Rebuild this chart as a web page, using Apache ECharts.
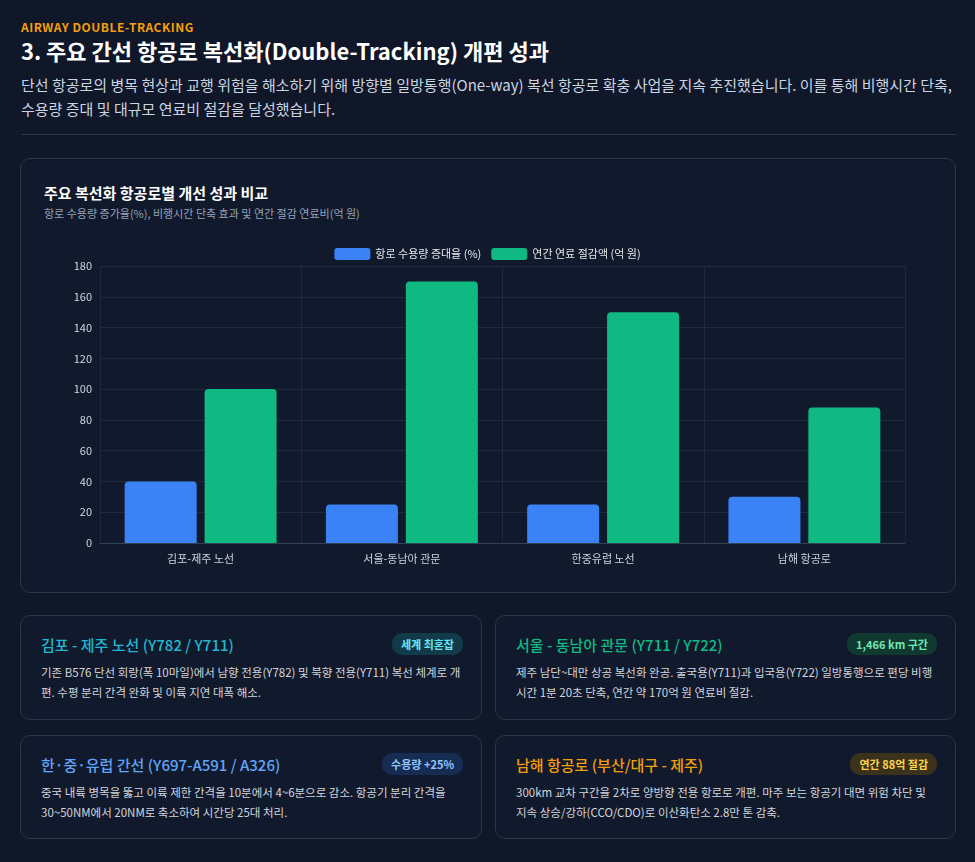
<!DOCTYPE html>
<html><head><meta charset="utf-8">
<script src="https://cdn.jsdelivr.net/npm/echarts@6/dist/echarts.min.js"></script>
<style>
body{margin:0;background:#0f1729;font-family:"Noto Sans CJK KR","Noto Sans",sans-serif;color:#e5e7eb;width:975px;height:862px;position:relative;overflow:hidden}
.abs{position:absolute}
.tag{left:21px;top:18px;font-size:12px;font-weight:700;color:#f59e0b;letter-spacing:.5px}
h1{position:absolute;left:21px;top:34px;margin:0;font-size:22px;color:#fff;font-weight:700}
.desc{left:21px;top:73px;width:935px;font-size:15px;line-height:24px;color:#cbd5e1}
.hr{left:21px;top:134px;width:935px;height:1px;background:#2b3548}
.card{border:1px solid #2b3548;border-radius:10px;background:#111a2d;box-sizing:border-box}
.ct{left:44px;top:182px;font-size:15px;font-weight:700;color:#fff}
.cs{left:44px;top:205px;font-size:11px;color:#94a3b8}
.info h3{position:absolute;left:20px;top:18px;margin:0;font-size:15px;font-weight:500}
.info .b{position:absolute;right:18px;top:17px;font-size:11px;font-weight:700;padding:3px 9px;border-radius:10px}
.info p{position:absolute;left:20px;top:46px;right:18px;margin:0;font-size:11.5px;line-height:20px;color:#d1d5db}
</style></head><body>
<div class="abs tag">AIRWAY DOUBLE-TRACKING</div>
<h1>3. 주요 간선 항공로 복선화(Double-Tracking) 개편 성과</h1>
<div class="abs desc">단선 항공로의 병목 현상과 교행 위험을 해소하기 위해 방향별 일방통행(One-way) 복선 항공로 확충 사업을 지속 추진했습니다. 이를 통해 비행시간 단축, 수용량 증대 및 대규모 연료비 절감을 달성했습니다.</div>
<div class="abs hr"></div>
<div class="abs card" style="left:20px;top:158px;width:936px;height:435px"></div>
<div class="abs ct">주요 복선화 항공로별 개선 성과 비교</div>
<div class="abs cs">항로 수용량 증가율(%), 비행시간 단축 효과 및 연간 절감 연료비(억 원)</div>
<div id="chart" class="abs" style="left:21px;top:235px;width:933px;height:345px"></div>

<div class="abs card info" style="left:20px;top:615px;width:462px;height:105px">
<h3 style="color:#22b8cf">김포 - 제주 노선 (Y782 / Y711)</h3><span class="b" style="background:#123b4a;color:#67e8f9">세계 최혼잡</span>
<p>기존 B576 단선 회랑(폭 10마일)에서 남향 전용(Y782) 및 북향 전용(Y711) 복선 체계로 개편. 수평 분리 간격 완화 및 이륙 지연 대폭 해소.</p></div>
<div class="abs card info" style="left:495px;top:615px;width:461px;height:105px">
<h3 style="color:#10b981">서울 - 동남아 관문 (Y711 / Y722)</h3><span class="b" style="background:#10392f;color:#6ee7b7">1,466 km 구간</span>
<p>제주 남단~대만 상공 복선화 완공. 출국용(Y711)과 입국용(Y722) 일방통행으로 편당 비행시간 1분 20초 단축, 연간 약 170억 원 연료비 절감.</p></div>
<div class="abs card info" style="left:20px;top:735px;width:462px;height:104px">
<h3 style="color:#60a5fa">한·중·유럽 간선 (Y697-A591 / A326)</h3><span class="b" style="background:#172c52;color:#93c5fd">수용량 +25%</span>
<p>중국 내륙 병목을 뚫고 이륙 제한 간격을 10분에서 4~6분으로 감소. 항공기 분리 간격을 30~50NM에서 20NM로 축소하여 시간당 25대 처리.</p></div>
<div class="abs card info" style="left:495px;top:735px;width:461px;height:104px">
<h3 style="color:#f59e0b">남해 항공로 (부산/대구 - 제주)</h3><span class="b" style="background:#3b321c;color:#fcd34d">연간 88억 절감</span>
<p>300km 교차 구간을 2차로 양방향 전용 항로로 개편. 마주 보는 항공기 대면 위험 차단 및 지속 상승/강하(CCO/CDO)로 이산화탄소 2.8만 톤 감축.</p></div>

<script>
var routes = ['김포-제주 노선', '서울-동남아 관문', '한중유럽 노선', '남해 항공로'];
var capacity = [40, 25, 25, 30];
var fuelSaving = [100, 170, 150, 88];

var chart = echarts.init(document.getElementById('chart'));
chart.setOption({
	textStyle: {fontFamily: 'Noto Sans CJK KR'},
	legend: {
		top: 8,
		itemWidth: 36, itemHeight: 12, itemGap: 10,
		textStyle: {color: '#e5e7eb', fontSize: 11},
		data: ['항로 수용량 증대율 (%)', '연간 연료 절감액 (억 원)']
	},
	grid: {left: 79, right: 49, top: 31, bottom: 37},
	xAxis: {
		type: 'category',
		data: routes,
		axisLine: {lineStyle: {color: '#334155'}},
		axisTick: {show: false},
		axisLabel: {color: '#cbd5e1', fontSize: 11, margin: 10},
		splitLine: {show: true, lineStyle: {color: '#1e293b'}}
	},
	yAxis: {
		type: 'value', min: 0, max: 180, interval: 20,
		axisLabel: {color: '#cbd5e1', fontSize: 11},
		splitLine: {lineStyle: {color: '#1f2a3d'}}
	},
	series: [{
		name: '항로 수용량 증대율 (%)', type: 'bar', data: capacity,
		barWidth: 72, barGap: '11%',
		itemStyle: {color: '#3b82f6', borderRadius: [4, 4, 0, 0]}
	}, {
		name: '연간 연료 절감액 (억 원)', type: 'bar', data: fuelSaving,
		barWidth: 72,
		itemStyle: {color: '#10b981', borderRadius: [4, 4, 0, 0]}
	}]
});
</script>
</body></html>
